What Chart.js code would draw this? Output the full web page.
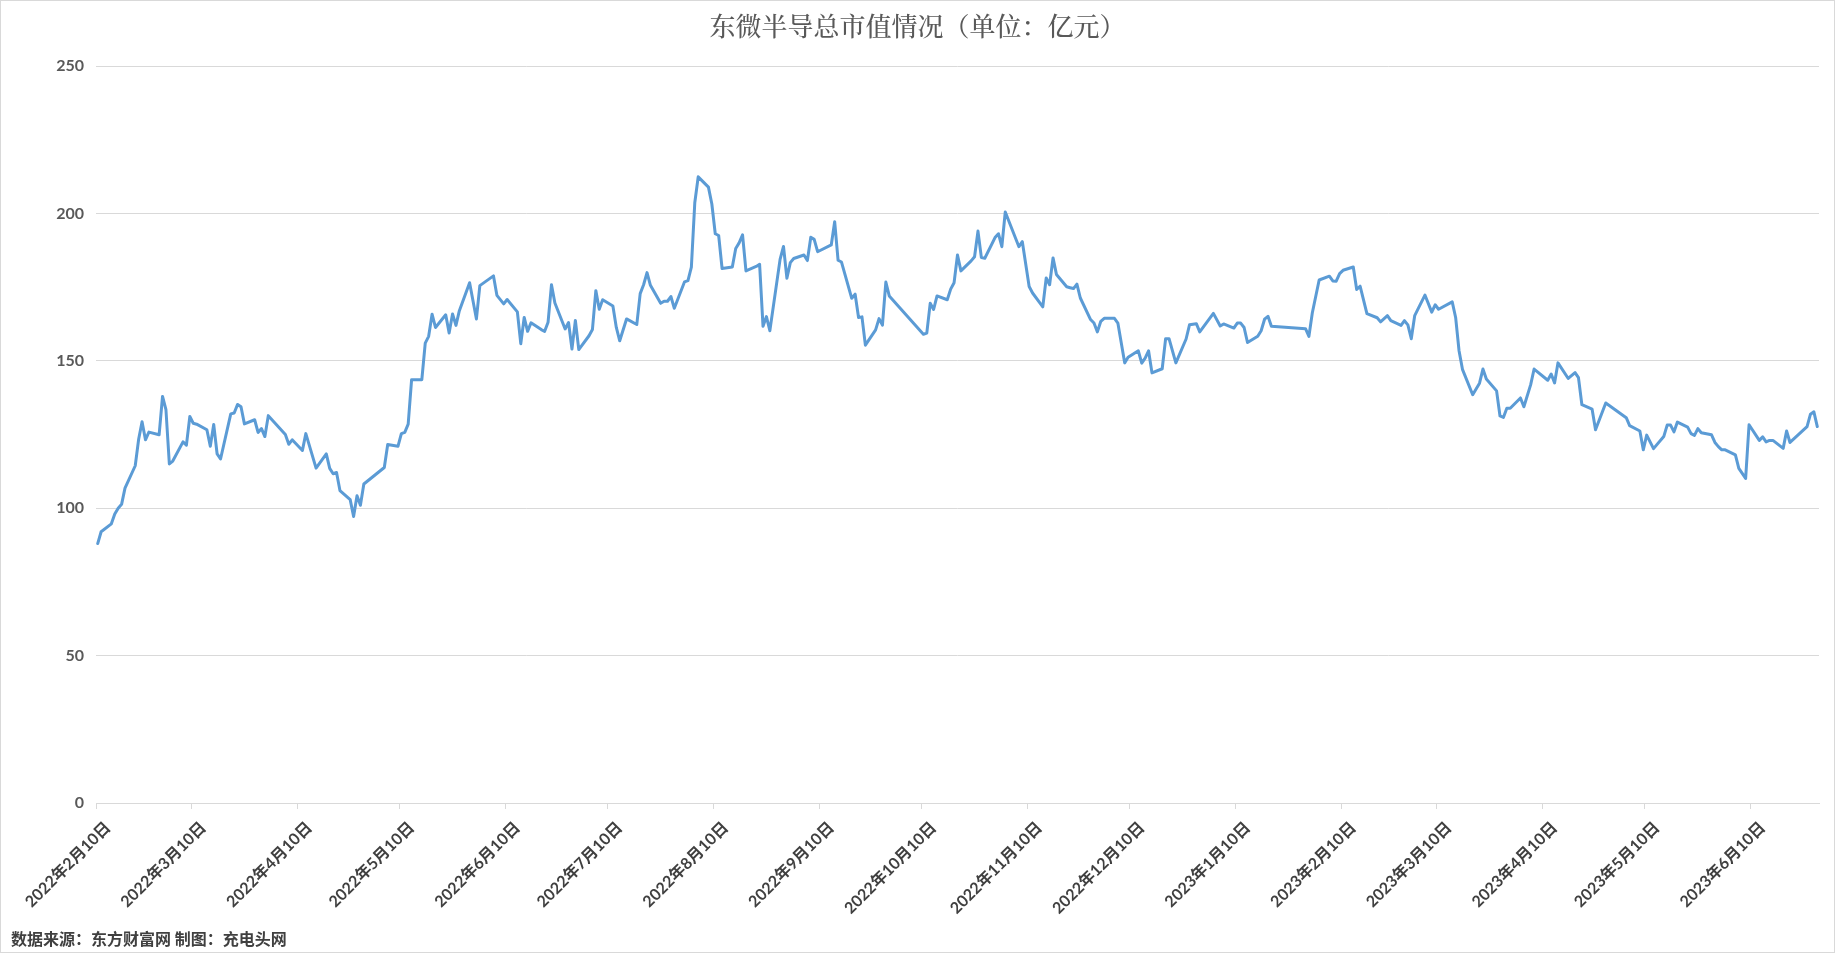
<!DOCTYPE html>
<html>
<head>
<meta charset="utf-8">
<script src="https://cdn.jsdelivr.net/npm/chart.js@4.4.1/dist/chart.umd.min.js"></script>
<style>
html,body{margin:0;padding:0;background:#fff;}
#wrap{width:1835px;height:953px;position:relative;}
</style>
</head>
<body>
<div id="wrap"><canvas id="c"></canvas></div>
<script>
const titleText = "东微半导总市值情况（单位：亿元）";
const footerText = "数据来源：东方财富网 制图：充电头网";

const tickDates = ["2022-02-10","2022-03-10","2022-04-10","2022-05-10","2022-06-10","2022-07-10","2022-08-10","2022-09-10","2022-10-10","2022-11-10","2022-12-10","2023-01-10","2023-02-10","2023-03-10","2023-04-10","2023-05-10","2023-06-10"];
const tickLabels = ["2022年2月10日","2022年3月10日","2022年4月10日","2022年5月10日","2022年6月10日","2022年7月10日","2022年8月10日","2022年9月10日","2022年10月10日","2022年11月10日","2022年12月10日","2023年1月10日","2023年2月10日","2023年3月10日","2023年4月10日","2023年5月10日","2023年6月10日"];
const yTicks = [0,50,100,150,200,250];

const dates2022a = ["2022-02-10","2022-02-11","2022-02-14","2022-02-15","2022-02-16","2022-02-17","2022-02-18","2022-02-21","2022-02-22","2022-02-23","2022-02-24","2022-02-25","2022-02-28","2022-03-01","2022-03-02","2022-03-03","2022-03-04","2022-03-07","2022-03-08","2022-03-09","2022-03-10","2022-03-11","2022-03-14","2022-03-15","2022-03-16","2022-03-17","2022-03-18","2022-03-21","2022-03-22","2022-03-23","2022-03-24","2022-03-25","2022-03-28","2022-03-29","2022-03-30","2022-03-31","2022-04-01","2022-04-06","2022-04-07","2022-04-08","2022-04-11","2022-04-12","2022-04-15","2022-04-18","2022-04-19","2022-04-20","2022-04-21","2022-04-22","2022-04-25","2022-04-26","2022-04-27","2022-04-28","2022-04-29","2022-05-05","2022-05-06","2022-05-09","2022-05-10","2022-05-11","2022-05-12","2022-05-13","2022-05-16","2022-05-17","2022-05-18","2022-05-19","2022-05-20","2022-05-23","2022-05-24","2022-05-25","2022-05-26","2022-05-27","2022-05-30","2022-06-01","2022-06-02","2022-06-06","2022-06-07","2022-06-09","2022-06-10","2022-06-13","2022-06-14","2022-06-15","2022-06-16","2022-06-17","2022-06-20","2022-06-21","2022-06-22","2022-06-23","2022-06-24","2022-06-27","2022-06-28","2022-06-29","2022-06-30"];
const values2022a = [88,92,94.7,98,100,101.3,106.8,114.4,123.4,129.3,123.2,125.8,124.9,137.9,133.4,115.0,116.0,122.5,121.4,131.1,128.8,128.5,126.6,121.0,128.4,118.4,116.7,132.0,132.3,135.2,134.4,128.6,130.0,125.7,127.0,124.3,131.4,125.0,121.7,123.2,119.6,125.3,113.6,118.4,113.5,111.7,112.1,106.0,102.9,97.2,104.2,101.0,108.2,113.8,121.6,121.0,125.3,125.7,128.5,143.6,143.6,156.0,158.3,165.8,161.3,165.6,159.4,165.9,162.0,167.0,176.5,164.2,175.5,178.8,172.2,169.3,170.8,166.6,155.8,164.7,160.0,162.9,160.6,160.0,163.1,175.8,169.6,160.8,163.0,154.0,163.7];

const dates2022b = ["2022-07-01","2022-07-04","2022-07-05","2022-07-06","2022-07-07","2022-07-08","2022-07-11","2022-07-12","2022-07-13","2022-07-15","2022-07-18","2022-07-19","2022-07-20","2022-07-21","2022-07-22","2022-07-25","2022-07-26","2022-07-27","2022-07-28","2022-07-29","2022-08-01","2022-08-02","2022-08-03","2022-08-04","2022-08-05","2022-08-08","2022-08-09","2022-08-10","2022-08-11","2022-08-12","2022-08-15","2022-08-16","2022-08-17","2022-08-18","2022-08-19","2022-08-22","2022-08-23","2022-08-24","2022-08-25","2022-08-26","2022-08-29","2022-08-30","2022-08-31","2022-09-01","2022-09-02","2022-09-05","2022-09-06","2022-09-07","2022-09-08","2022-09-09","2022-09-13","2022-09-14","2022-09-15","2022-09-16","2022-09-19","2022-09-20","2022-09-21","2022-09-22","2022-09-23","2022-09-26","2022-09-27","2022-09-28","2022-09-29","2022-09-30","2022-10-10","2022-10-11","2022-10-12","2022-10-13","2022-10-14","2022-10-17","2022-10-18","2022-10-19","2022-10-20","2022-10-21","2022-10-24","2022-10-25","2022-10-26","2022-10-27","2022-10-28","2022-10-31","2022-11-01","2022-11-02","2022-11-03","2022-11-07","2022-11-08","2022-11-10","2022-11-11","2022-11-14","2022-11-15","2022-11-16","2022-11-17","2022-11-18","2022-11-21","2022-11-22","2022-11-23","2022-11-24","2022-11-25","2022-11-28","2022-11-29","2022-11-30","2022-12-01","2022-12-02","2022-12-05","2022-12-06","2022-12-08","2022-12-09","2022-12-12","2022-12-13","2022-12-14","2022-12-15","2022-12-16","2022-12-19","2022-12-20","2022-12-21","2022-12-23","2022-12-26","2022-12-27","2022-12-29","2022-12-30"];
const values2022b = [153.8,158.5,160.6,173.8,167.5,170.7,168.6,161.3,156.8,164.2,162.3,172.8,175.8,179.9,175.6,169.5,170.2,170.2,171.8,167.8,176.8,177.2,181.8,203.6,212.4,208.9,203.2,193.1,192.5,181.3,181.8,188.1,190.0,192.7,180.5,182.0,182.7,161.7,165.0,160.2,184.4,188.8,178.0,183.3,184.7,185.9,184.0,191.9,191.2,187.0,189.3,197.2,184.1,183.5,171.2,172.6,164.7,164.9,155.3,160.5,164.3,162.1,176.7,172.0,159.0,159.4,169.5,167.4,172.0,170.7,174.3,176.5,185.9,180.5,183.9,185.3,194.0,185.0,184.8,191.8,193.1,188.7,200.5,188.7,190.4,175.2,173.0,168.3,178.1,175.8,184.9,179.3,175.1,174.8,174.5,176.0,171.3,164.0,162.8,159.8,163.4,164.4,164.4,162.8,149.3,151.2,153.4,149.2,150.9,153.4,145.9,147.3,157.5,157.5,149.3,157.4,162.2,162.6,159.8];

const dates2023 = ["2023-01-03","2023-01-05","2023-01-06","2023-01-09","2023-01-10","2023-01-11","2023-01-12","2023-01-13","2023-01-16","2023-01-17","2023-01-18","2023-01-19","2023-01-20","2023-01-30","2023-01-31","2023-02-01","2023-02-03","2023-02-06","2023-02-07","2023-02-08","2023-02-09","2023-02-10","2023-02-13","2023-02-14","2023-02-15","2023-02-17","2023-02-20","2023-02-21","2023-02-23","2023-02-24","2023-02-27","2023-02-28","2023-03-01","2023-03-02","2023-03-03","2023-03-06","2023-03-08","2023-03-09","2023-03-10","2023-03-14","2023-03-15","2023-03-16","2023-03-17","2023-03-20","2023-03-22","2023-03-23","2023-03-24","2023-03-27","2023-03-28","2023-03-29","2023-03-30","2023-03-31","2023-04-03","2023-04-04","2023-04-06","2023-04-07","2023-04-11","2023-04-12","2023-04-13","2023-04-14","2023-04-17","2023-04-19","2023-04-20","2023-04-21","2023-04-24","2023-04-25","2023-04-28","2023-05-04","2023-05-05","2023-05-08","2023-05-09","2023-05-10","2023-05-12","2023-05-15","2023-05-16","2023-05-17","2023-05-18","2023-05-19","2023-05-22","2023-05-23","2023-05-24","2023-05-25","2023-05-26","2023-05-29","2023-05-30","2023-05-31","2023-06-01","2023-06-02","2023-06-05","2023-06-06","2023-06-08","2023-06-09","2023-06-12","2023-06-13","2023-06-14","2023-06-15","2023-06-16","2023-06-19","2023-06-20","2023-06-21","2023-06-26","2023-06-27","2023-06-28","2023-06-29"];
const values2023 = [166.1,161.8,162.5,161.1,162.8,162.8,161.3,156.2,158.3,160.2,164.1,165.1,161.7,160.9,158.3,166.3,177.4,178.7,177.1,177.0,179.6,180.7,181.8,174.2,175.3,166.0,164.6,163.2,165.3,163.6,162.0,163.6,162.2,157.5,165.3,172.3,166.5,169.0,167.5,170.0,164.7,153.4,147.1,138.5,142.4,147.2,143.8,139.8,131.3,130.8,133.9,133.9,137.4,134.4,141.9,147.2,143.4,145.5,142.5,149.3,144.0,146.0,144.3,135.1,133.6,126.6,135.7,130.7,128.0,126.2,119.8,124.8,120.2,124.3,128.2,128.2,125.9,129.2,127.5,125.3,124.7,127.0,125.6,124.9,122.3,120.9,119.8,119.8,118.1,113.5,110.1,128.3,123.0,124.2,122.5,123.0,123.0,120.3,126.2,122.3,127.7,131.9,132.7,127.7];

const DAY = 86400000;
const START = Date.UTC(2022,1,10);
function dayIndex(s){const p=s.split('-');return (Date.UTC(+p[0],+p[1]-1,+p[2])-START)/DAY;}
const allDates = dates2022a.concat(dates2022b, dates2023);
const allValues = values2022a.concat(values2022b, values2023);
const points = allDates.map((d,i)=>({x: dayIndex(d)+0.5, y: allValues[i]}));
const tickDays = tickDates.map(dayIndex);
const xMax = dayIndex(allDates[allDates.length-1]) + 1;

const frame = {
  id:'frame',
  beforeDraw(chart){
    const ctx=chart.ctx; ctx.save();
    ctx.fillStyle='#fff'; ctx.fillRect(0,0,chart.width,chart.height);
    ctx.restore();
  },
  afterDraw(chart){
    const ctx=chart.ctx; ctx.save();
    ctx.strokeStyle='#D9D9D9'; ctx.lineWidth=1;
    ctx.strokeRect(0.5,0.5,chart.width-1,chart.height-1);
    ctx.fillStyle='#595959';
    ctx.font='500 26px "Noto Serif CJK SC","Noto Sans CJK SC",sans-serif';
    ctx.textAlign='center'; ctx.textBaseline='middle';
    ctx.fillText(titleText, chart.width/2, 26);
    ctx.fillStyle='#404040';
    ctx.font='bold 16px "Noto Sans CJK SC",sans-serif';
    ctx.textAlign='left';
    ctx.fillText(footerText, 11, 939);
    ctx.restore();
  }
};

const labelFont = {family:'Lato, "Noto Sans CJK SC", sans-serif', size:16, weight:'bold'};

new Chart(document.getElementById('c'), {
  type:'line',
  data:{datasets:[{
    data: points,
    borderColor:'#5B9BD5',
    borderWidth:3,
    pointRadius:0,
    tension:0,
    borderJoinStyle:'round',
    borderCapStyle:'round',
    fill:false
  }]},
  options:{
    responsive:true,
    maintainAspectRatio:false,
    animation:false,
    parsing:false,
    layout:{padding:{top:66,right:16,bottom:30,left:0}},
    plugins:{legend:{display:false},tooltip:{enabled:false},title:{display:false}},
    scales:{
      x:{
        type:'linear', min:0, max:xMax,
        afterBuildTicks(scale){ scale.ticks = tickDays.map(v=>({value:v})); },
        afterFit(scale){ scale.height = 120; },
        grid:{display:true, drawOnChartArea:false, drawTicks:true, tickLength:6, color:'#D9D9D9'},
        border:{display:true, color:'#D9D9D9'},
        ticks:{
          autoSkip:false, maxRotation:45, minRotation:45, padding:9, labelOffset:12,
          color:'#404040', font:labelFont,
          callback:(v,i)=>tickLabels[i]
        }
      },
      y:{
        min:0, max:250,
        afterBuildTicks(scale){ scale.ticks = yTicks.map(v=>({value:v})); },
        afterFit(scale){ scale.width = 96; },
        grid:{color:'#D9D9D9', drawTicks:false},
        border:{display:false},
        ticks:{padding:12, color:'#595959', font:labelFont}
      }
    }
  },
  plugins:[frame]
});
</script>
</body>
</html>
